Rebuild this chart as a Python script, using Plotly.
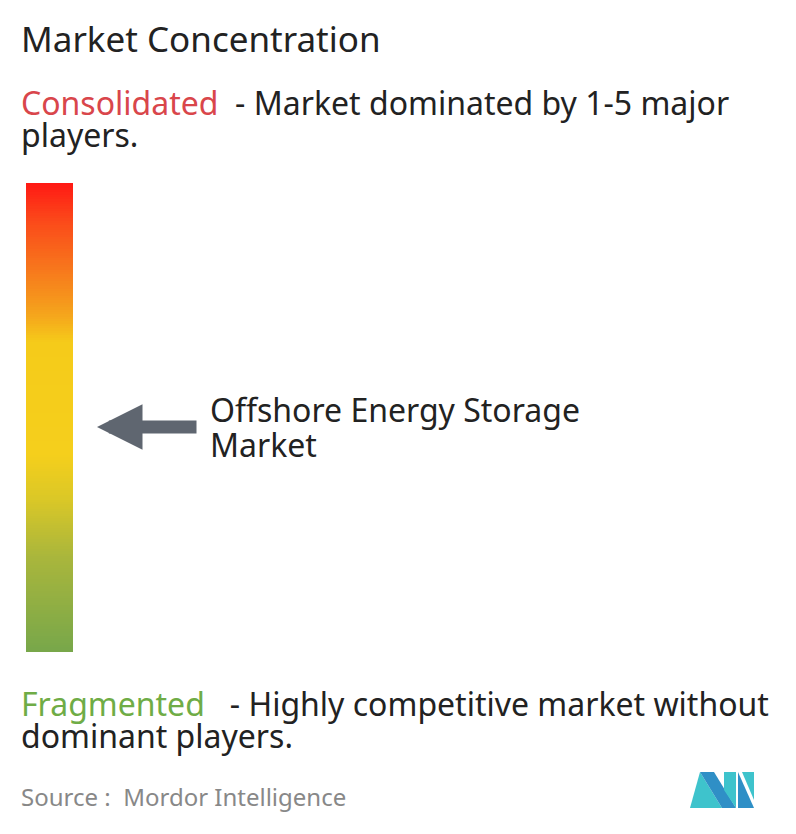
import plotly.graph_objects as go
import numpy as np

levels = list(np.linspace(0, 1, 200))
color_stops = [[0.0, "#78a74a"], [0.2, "#a9b63c"], [0.33, "#dcc826"], [0.42, "#f5cf1c"], [0.66, "#f5cb1a"], [0.72, "#f5a51c"], [0.82, "#f7761c"], [0.92, "#fb4a1a"], [1.0, "#ff1a14"]]
market_lines = ["Offshore Energy Storage", "Market"]

W, H = 796, 834
OFF = 8  # page body margin
fig = go.Figure()
y_edges = list(np.linspace(652, 183, len(levels) + 1))
fig.add_trace(go.Heatmap(z=[[v] for v in levels], x=[26, 73], y=y_edges,
                         colorscale=color_stops, showscale=False, hoverinfo="skip"))
fig.update_xaxes(range=[OFF, W + OFF], visible=False)
fig.update_yaxes(range=[H + OFF, OFF], visible=False)
F = "Noto Sans"
def txt(x, y, t, size, color="#222"):
    fig.add_annotation(x=x, y=y, text=t, showarrow=False, xanchor="left", yanchor="middle", align="left",
                       borderpad=0, font=dict(family=F, size=size, color=color))
txt(20, 38, "Market Concentration", 35)
txt(20, 102, "<span style='color:#d9464b'>Consolidated</span>  - Market dominated by 1-5 major", 32)
txt(20, 134, "players.", 32)
txt(20, 703, "<span style='color:#6fac46'>Fragmented</span>   - Highly competitive market without", 32)
txt(20, 735, "dominant players.", 32)
txt(209, 409, market_lines[0], 32)
txt(209, 444, market_lines[1], 32)
txt(20, 796, "Source :  Mordor Intelligence", 24, "#888")
fig.add_annotation(x=97, y=427, ax=198, ay=427, xref="x", yref="y", axref="x", ayref="y", text="",
                   showarrow=True, arrowhead=2, arrowwidth=13, arrowsize=0.7, arrowcolor="#5f6670")
# logo
fig.add_shape(type="path", path="M690,808 L700,772 L722,808 Z", fillcolor="#3ec3cc", line_width=0)
fig.add_shape(type="path", path="M700,772 L714,772 L736,808 L722,808 Z", fillcolor="#2f8fc6", line_width=0)
fig.add_shape(type="path", path="M724,790 L736,808 L736,772 L724,772 Z", fillcolor="#3ec3cc", line_width=0)
fig.add_shape(type="path", path="M738,772 L738,808 L754,808 Z", fillcolor="#2f8fc6", line_width=0)
fig.add_shape(type="path", path="M742,772 L754,772 L754,800 Z", fillcolor="#3ec3cc", line_width=0)
fig.update_layout(width=W, height=H, margin=dict(l=0, r=0, t=0, b=0), plot_bgcolor="white", paper_bgcolor="white")
fig.write_html("out.html")
